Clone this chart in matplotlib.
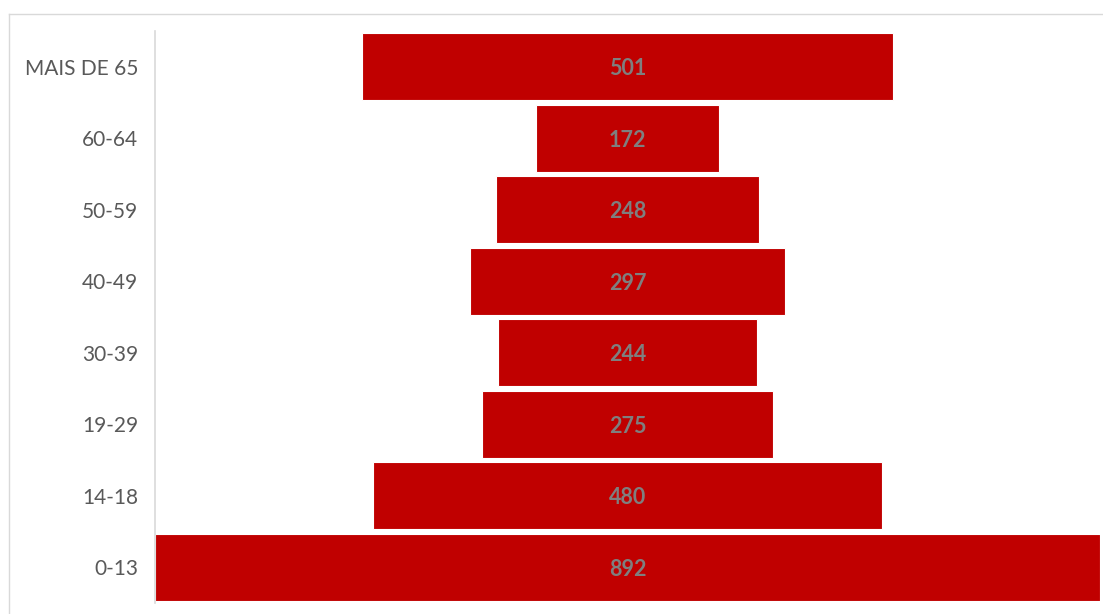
import matplotlib.pyplot as plt
from matplotlib.lines import Line2D

faixas = ['0-13', '14-18', '19-29', '30-39', '40-49', '50-59', '60-64', 'MAIS DE 65']
valores = [892, 480, 275, 244, 297, 248, 172, 501]

plt.rcParams['font.family'] = ['Lato', 'DejaVu Sans']

fig = plt.figure(figsize=(11.03, 6.14), dpi=100)
ax = fig.add_axes([155 / 1103, 11 / 614, 945 / 1103, 572 / 614])

# funil: barras centradas em zero
lefts = [-v / 2 for v in valores]
ax.barh(range(len(faixas)), valores, left=lefts, height=0.94,
        color='#c00000', edgecolor='white', linewidth=0.8)

for i, v in enumerate(valores):
    ax.text(0, i - 0.03, str(v), ha='center', va='center', fontsize=15.5,
            fontweight='bold', color='#7f7f7f')

ax.set_xlim(-446, 446)
ax.set_ylim(-0.5, len(faixas) - 0.5)
ax.set_yticks(range(len(faixas)))
ax.set_yticklabels(faixas, fontsize=15, color='#595959')
for lbl in ax.get_yticklabels():
    lbl.set_y(lbl.get_position()[1])
ax.tick_params(axis='y', length=0, pad=12)
ax.set_xticks([])
for s in ['top', 'right', 'bottom']:
    ax.spines[s].set_visible(False)
ax.spines['left'].set_color('#d9d9d9')
ax.spines['left'].set_linewidth(1.2)

# moldura do gráfico
fig.add_artist(Line2D([9 / 1103, 1], [1 - 14 / 614, 1 - 14 / 614],
                      transform=fig.transFigure, color='#d9d9d9', lw=1))
fig.add_artist(Line2D([9 / 1103, 9 / 1103], [0, 1 - 14 / 614],
                      transform=fig.transFigure, color='#d9d9d9', lw=1))

fig.savefig('out.png', dpi=100)
